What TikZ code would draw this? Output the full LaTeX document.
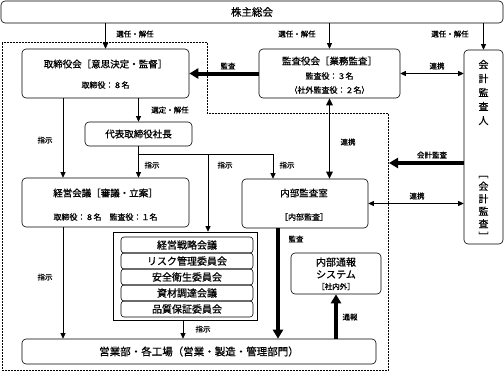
\documentclass[tikz,border=0pt]{standalone}
\usepackage{fontspec}
\setmainfont{Noto Sans CJK JP}[RawFeature={embolden=0.8}]
\usetikzlibrary{arrows.meta}
\newcommand\myfs[2]{\fontsize{#1}{#2}\selectfont}
\begin{document}
\begin{tikzpicture}[x=1pt,y=-1pt,
  box/.style={draw, rounded corners=4pt, line width=0.6pt, inner sep=0pt},
  sqbox/.style={draw, line width=0.6pt, inner sep=0pt},
  txt/.style={inner sep=0pt, font=\myfs{9.5}{11}},
  sub/.style={inner sep=0pt, font=\myfs{8}{10}},
  lbl/.style={inner sep=0pt, font=\myfs{7.5}{9}},
  tarr/.style={line width=0.7pt, -{Triangle[length=5.5pt,width=5pt]}},
  tdarr/.style={line width=0.8pt, {Triangle[length=5.5pt,width=5pt]}-{Triangle[length=5.5pt,width=5pt]}},
  mdarr/.style={line width=1.6pt, {Triangle[length=7pt,width=6.5pt]}-{Triangle[length=7pt,width=6.5pt]}},
  barr/.style={line width=4pt, -{Triangle[length=9pt,width=10pt]}},
  bound/.style={densely dotted, line width=0.5pt}
]
\useasboundingbox (0,0) rectangle (504,372);

% boundary
\draw[bound] (2,42) -- (207,42) -- (207,113) -- (388,113) -- (388,370) -- (2,370) -- cycle;

% boxes
\node[box, minimum width=502pt, minimum height=22pt, font=\myfs{10.5}{12}] (kabu) at (252,12) {株主総会};
\node[box, minimum width=167pt, minimum height=49pt] (tori) at (105.5,73.5) {};
\node[txt] (toriA) at (105.5,64) {取締役会［意思決定・監督］};
\node[sub] (toriB) at (105.5,85) {取締役：８名};

\node[box, minimum width=141pt, minimum height=49pt] (kansa) at (329.5,73.5) {};
\node[txt] (kansaA) at (329.5,61) {監査役会［業務監査］};
\node[sub] (kansaB) at (329.5,76) {監査役：３名};
\node[sub] (kansaC) at (329.5,90) {（社外監査役：２名）};

\node[box, minimum width=39pt, minimum height=194pt] (kaikei) at (483.5,147) {};
\node[inner sep=0pt, align=center, font=\myfs{10}{14}] (kaikeiA) at (483.5,92.5) {会\\計\\監\\査\\人};
\node[inner sep=0pt, align=center, font=\myfs{10}{12.5}] (kaikeiB) at (483.5,205) {\rotatebox[origin=c]{-90}{［}\\会\\計\\監\\査\\\rotatebox[origin=c]{-90}{］}};

\node[box, minimum width=107pt, minimum height=24pt, font=\myfs{9.5}{11}] (daihyo) at (138.5,134) {代表取締役社長};

\node[box, minimum width=167pt, minimum height=49pt] (keiei) at (105.5,202.5) {};
\node[txt] (keieiA) at (105.5,193) {経営会議［審議・立案］};
\node[sub] (keieiB) at (105.5,217) {取締役：８名　監査役：１名};

\node[box, minimum width=126pt, minimum height=49pt] (naibu) at (305,203.5) {};
\node[txt] (naibuA) at (304,193) {内部監査室};
\node[sub] (naibuB) at (304,217) {［内部監査］};

\node[sqbox, minimum width=144pt, minimum height=88pt] (comm) at (185,276) {};
\foreach \t [count=\i] in {経営戦略会議,リスク管理委員会,安全衛生委員会,資材調達会議,品質保証委員会}{
  \node[box, rounded corners=3pt, minimum width=132pt, minimum height=16pt, font=\myfs{10}{11}] (c\i) at (187,229+16*\i) {\t};
}

\node[box, minimum width=354pt, minimum height=25pt, font=\myfs{10.5}{12}] (eigyo) at (199,351.5) {営業部・各工場（営業・製造・管理部門）};

\node[box, minimum width=90pt, minimum height=41pt] (tsuho) at (336,273.5) {};
\node[txt, font=\myfs{10}{11}] (tsuhoA) at (336,262) {内部通報};
\node[txt, font=\myfs{10}{11}] (tsuhoB) at (336,274.5) {システム};
\node[lbl] (tsuhoC) at (336,286.5) {［社内外］};

% coordinates
\coordinate (x63) at (63,0);
\coordinate (br) at (138.5,154);
\coordinate (x208) at (208,154);
\coordinate (x273) at (273,154);
\coordinate (x183) at (183,0);
\coordinate (x278) at (278,0);
\coordinate (ya) at (0,163);
\coordinate (xa) at (389,0);

% connectors
\draw[tarr] (kabu.south -| tori.north) -- (tori.north);
\draw[tarr] (kabu.south -| kansa.north) -- (kansa.north);
\draw[tarr] (kabu.south -| kaikei.north) -- (kaikei.north);
\draw[barr] (kansa.west) -- (tori.east);
\draw[tdarr] (kansa.east) -- (kansa.east -| kaikei.west);
\draw[tarr] (tori.south -| daihyo.north) -- (daihyo.north);
\draw[tarr] (tori.south -| x63) -- (keiei.north -| x63);
\draw[tarr] (daihyo.south) -- (keiei.north -| daihyo.south);
\draw[tarr] (br) -- (x273) -- (naibu.north -| x273);
\draw[tarr] (x208) -- (comm.north -| x208);
\draw[mdarr] (kansa.south) -- (naibu.north -| kansa.south);
\draw[barr] (kaikei.west |- ya) -- (xa |- ya);
\draw[tdarr] (naibu.east) -- (naibu.east -| kaikei.west);
\draw[barr] (naibu.south -| x278) -- (eigyo.north -| x278);
\draw[barr] (eigyo.north -| tsuho.south) -- (tsuho.south);
\draw[tarr] (comm.south -| x183) -- (eigyo.north -| x183);
\draw[tarr] (keiei.south -| x63) -- (eigyo.north -| x63);

% labels
\node[lbl] (l1) at (135,34) {選任・解任};
\node[lbl] (l2) at (297,34) {選任・解任};
\node[lbl] (l3) at (450,34) {選任・解任};
\node[lbl] (l4) at (228,66) {監査};
\node[lbl] (l5) at (437,66) {連携};
\node[lbl] (l6) at (170,110) {選定・解任};
\node[lbl] (l7) at (45,140) {指示};
\node[lbl] (l8) at (152,165) {指示};
\node[lbl] (l9) at (225,165) {指示};
\node[lbl] (l10) at (287,165) {指示};
\node[lbl] (l11) at (348,142) {連携};
\node[lbl] (l12) at (432,155) {会計監査};
\node[lbl] (l13) at (417,196) {連携};
\node[lbl] (l14) at (296,239) {監査};
\node[lbl] (l15) at (45,277) {指示};
\node[lbl] (l16) at (350,317) {通報};
\node[lbl] (l17) at (203,329) {指示};
\end{tikzpicture}
\end{document}
